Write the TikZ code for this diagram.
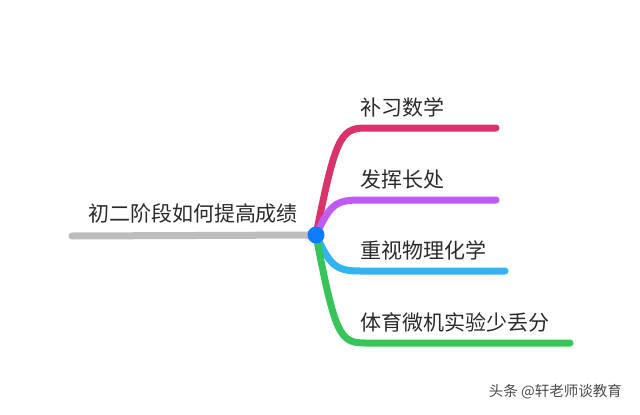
\documentclass[tikz,border=0pt]{standalone}
\usepackage{fontspec}
\newfontfamily\cjk{Noto Sans CJK SC}
\definecolor{cred}{HTML}{D9336A}
\definecolor{cpurple}{HTML}{BF5AF2}
\definecolor{cblue}{HTML}{32B4F0}
\definecolor{cgreen}{HTML}{36C55A}
\definecolor{cgray}{HTML}{BDBDBD}
\definecolor{cdot}{HTML}{0A7DFF}
\definecolor{ctext}{HTML}{2B2B2B}
\tikzset{
  branch/.style={line width=7pt, line cap=round},
  lbl/.style={anchor=west, inner sep=0pt, text=ctext, font=\cjk\fontsize{21}{24}\selectfont},
}
\begin{document}
\begin{tikzpicture}[x=1pt,y=-1pt]
\useasboundingbox (0,0) rectangle (640,415);
\fill[white] (0,0) rectangle (640,415);
\coordinate (root) at (316,235);
\coordinate (gstart) at (72,236);
\draw[branch, cgray] (gstart) -- (root);
\coordinate (e1) at (496,128);
\coordinate (e2) at (496,200);
\coordinate (e3) at (505,271);
\coordinate (e4) at (570,343);
\draw[branch, cred] (root) .. controls (335,140) and (340,128) .. (365,128) -- (e1);
\draw[branch, cpurple] (root) .. controls (330,205) and (335,200) .. (360,200) -- (e2);
\draw[branch, cblue] (root) .. controls (330,265) and (335,271) .. (360,271) -- (e3);
\draw[branch, cgreen] (root) .. controls (335,335) and (340,343) .. (365,343) -- (e4);
\node[circle, fill=cdot, minimum size=17pt, inner sep=0pt] (c) at (root) {};
\node[anchor=center, inner sep=0pt, text=ctext, font=\cjk\fontsize{21}{24}\selectfont] (title) at (193,214) {初二阶段如何提高成绩};
\node[lbl] (t1) at (360,107) {补习数学};
\node[lbl] (t2) at (360,180) {发挥长处};
\node[lbl] (t3) at (360,250) {重视物理化学};
\node[lbl] (t4) at (360,322) {体育微机实验少丢分};
\node[anchor=east, inner sep=0pt, text=black!70, font=\cjk\fontsize{14.5}{16}\selectfont] (wm) at (622,392) {头条 @轩老师谈教育};
\end{tikzpicture}
\end{document}
